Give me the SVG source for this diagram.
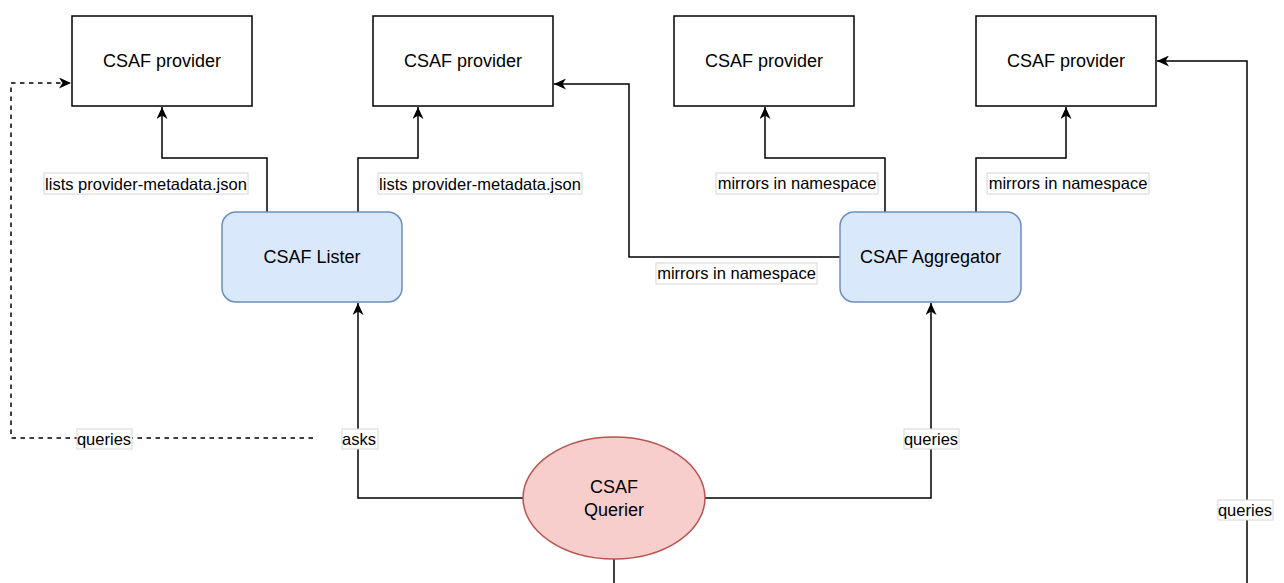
<svg xmlns="http://www.w3.org/2000/svg" width="1284" height="583" viewBox="0 0 1284 583">
<style>
.box{fill:#ffffff;stroke:#000000;stroke-width:1.5}
.blue{fill:#dae8fc;stroke:#6c8ebf;stroke-width:1.5}
.red{fill:#f8cecc;stroke:#b85450;stroke-width:1.5}
.node{font-family:"Liberation Sans",Arial,sans-serif;font-size:18px;fill:#000000;text-anchor:middle;dominant-baseline:central}
.edge{fill:none;stroke:#000000;stroke-width:1.5}
.dash{stroke-dasharray:4.5 4.5}
.lblbg{fill:#ffffff;stroke:#d6d6d6;stroke-width:1}
.lbl{font-family:"Liberation Sans",Arial,sans-serif;font-size:16.5px;fill:#000000;text-anchor:middle;dominant-baseline:central}
</style>
<defs>
<marker id="arr" viewBox="0 0 12 11" refX="12" refY="5.5" markerWidth="12" markerHeight="11" markerUnits="userSpaceOnUse" orient="auto">
<path d="M0,0 L12,5.5 L0,11 L3.5,5.5 Z" fill="#000000"/>
</marker>
</defs>
<g id="connectors">
<path class="edge" d="M267,212 V158 H162 V107" marker-end="url(#arr)"/>
<path class="edge" d="M358,212 V158 H418 V107" marker-end="url(#arr)"/>
<path class="edge" d="M885,212 V158 H765 V107" marker-end="url(#arr)"/>
<path class="edge" d="M976,212 V158 H1066 V107" marker-end="url(#arr)"/>
<path class="edge" d="M840,257 H629 V84 H554" marker-end="url(#arr)"/>
<path class="edge" d="M523,498 H358 V303" marker-end="url(#arr)"/>
<path class="edge" d="M705,498 H931 V303" marker-end="url(#arr)"/>
<path class="edge" d="M614,559 V590 M1247,590 V61 H1157" marker-end="url(#arr)"/>
<path class="edge dash" d="M313,438 H11 V83 H71" marker-end="url(#arr)"/>
<g id="labels">
<rect class="lblbg" x="44" y="173" width="204" height="21"/>
<text class="lbl" x="146" y="184">lists provider-metadata.json</text>
<rect class="lblbg" x="378" y="173" width="204" height="21"/>
<text class="lbl" x="480" y="184">lists provider-metadata.json</text>
<rect class="lblbg" x="716" y="173" width="162" height="21"/>
<text class="lbl" x="797" y="183">mirrors in namespace</text>
<rect class="lblbg" x="987" y="173" width="162" height="21"/>
<text class="lbl" x="1068" y="183">mirrors in namespace</text>
<rect class="lblbg" x="656" y="263" width="161" height="21"/>
<text class="lbl" x="736.5" y="273">mirrors in namespace</text>
<rect class="lblbg" x="342" y="429" width="36" height="20"/>
<text class="lbl" x="359" y="439">asks</text>
<rect class="lblbg" x="904" y="429" width="55" height="20"/>
<text class="lbl" x="931" y="439">queries</text>
<rect class="lblbg" x="77" y="429" width="55" height="20"/>
<text class="lbl" x="104" y="439">queries</text>
<rect class="lblbg" x="1218" y="500" width="55" height="20"/>
<text class="lbl" x="1245" y="510">queries</text>
</g>
</g>
<g id="provider1"><rect class="box" x="72" y="16" width="180" height="90"/><text class="node" x="162" y="60.5">CSAF provider</text></g>
<g id="provider2"><rect class="box" x="373" y="16" width="180" height="90"/><text class="node" x="463" y="60.5">CSAF provider</text></g>
<g id="provider3"><rect class="box" x="674" y="16" width="180" height="90"/><text class="node" x="764" y="60.5">CSAF provider</text></g>
<g id="provider4"><rect class="box" x="976" y="16" width="180" height="90"/><text class="node" x="1066" y="60.5">CSAF provider</text></g>
<g id="lister"><rect class="blue" x="222" y="212" width="180" height="90" rx="14" ry="14"/><text class="node" x="312" y="256.5">CSAF Lister</text></g>
<g id="aggregator"><rect class="blue" x="840" y="212" width="181" height="90" rx="14" ry="14"/><text class="node" x="930.5" y="256.5">CSAF Aggregator</text></g>
<g id="querier"><ellipse class="red" cx="614" cy="498" rx="91" ry="61"/><text class="node" x="614" y="487">CSAF</text><text class="node" x="614" y="510">Querier</text></g>
</svg>
